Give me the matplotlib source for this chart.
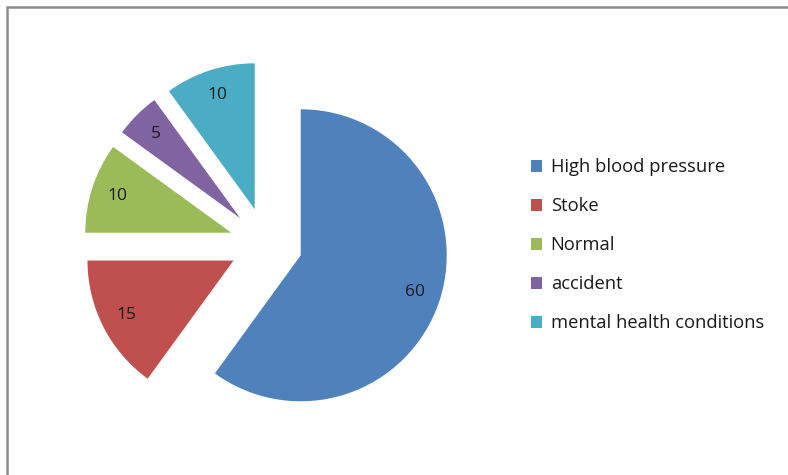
import matplotlib.pyplot as plt
from matplotlib.patches import Rectangle

labels = ["High blood pressure", "Stoke", "Normal", "accident", "mental health conditions"]
values = [60, 15, 10, 5, 10]
colors = ["#4F81BD", "#C0504D", "#9BBB59", "#8064A2", "#4BACC6"]

W, H = 788, 475
R = 146.0          # pie radius in pixels
CX, CY = 266, 244  # pie centre in pixels (from top-left)

plt.rcParams["font.family"] = ["Open Sans", "DejaVu Sans"]

fig = plt.figure(figsize=(W / 100, H / 100), dpi=100)
ax = fig.add_axes([0, 0, 1, 1])

wedges, texts, autotexts = ax.pie(
    values,
    colors=colors,
    explode=[0.25] * len(values),
    startangle=90,
    counterclock=False,
    autopct=lambda p: "%d" % round(p * sum(values) / 100),
    pctdistance=0.82,
    radius=1,
    frame=True,
    textprops={"fontsize": 12.5, "color": "#1a1a1a"},
)
ax.set_xlim(-CX / R, (W - CX) / R)
ax.set_ylim(-(H - CY) / R, CY / R)
ax.set_aspect("auto")
ax.axis("off")

leg = fig.legend(
    wedges, labels,
    loc="upper left",
    bbox_to_anchor=(514 / W, 1 - 142 / H),
    frameon=False,
    fontsize=13.2,
    handlelength=0.65,
    handleheight=0.65,
    handletextpad=0.45,
    labelspacing=1.14,
    labelcolor="#1a1a1a",
)

# outer frame (only top and left edges visible)
fig.add_artist(Rectangle((7 / W, -0.1), 1.2, 1 - 7 / H + 0.1,
                         transform=fig.transFigure, fill=False,
                         edgecolor="#8c8c8c", linewidth=1.8))

fig.savefig("out.png", dpi=100)
